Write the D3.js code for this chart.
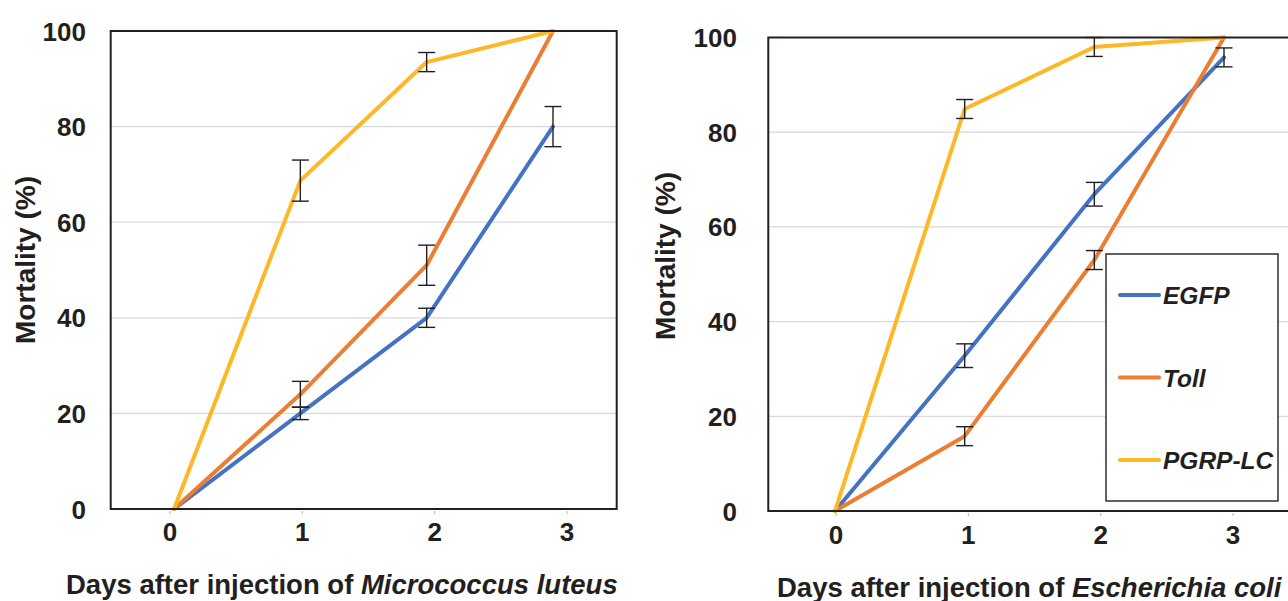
<!DOCTYPE html>
<html>
<head>
<meta charset="utf-8">
<script src="https://cdn.jsdelivr.net/npm/d3@7"></script>
<style>
  html, body { margin: 0; padding: 0; background: #ffffff; }
  svg { display: block; }
  text { font-family: "Liberation Sans", Arial, Helvetica, sans-serif; fill: #231f20; }
</style>
</head>
<body>
<svg id="chart" width="1288" height="601"></svg>
<script>
// ---------- DATA ----------
const days = [0, 1, 2, 3];
const dayLabels = ["0", "1", "2", "3"];
const yTicks = [0, 20, 40, 60, 80, 100];
const seriesNames = ["EGFP", "Toll", "PGRP-LC"];
const seriesColors = ["#4472C4", "#ED7D31", "#FDB827"];

// Panel A: Micrococcus luteus
const mlEGFP = [0, 20, 40, 80];
const mlEGFPErr = [0, 1.3, 2, 4.2];
const mlToll = [0, 24, 51, 100];
const mlTollErr = [0, 2.7, 4.2, 0];
const mlPGRP = [0, 68.7, 93.5, 100];
const mlPGRPErr = [0, 4.3, 2, 0];

// Panel B: Escherichia coli
const ecEGFP = [0, 32.8, 66.9, 95.8];
const ecEGFPErr = [0, 2.5, 2.5, 2];
const ecToll = [0, 15.8, 53, 100];
const ecTollErr = [0, 2, 2, 0];
const ecPGRP = [0, 84.9, 98, 100];
const ecPGRPErr = [0, 2, 2, 0];

const yTitle = "Mortality (%)";
const xTitlePrefix = "Days after injection of ";
const xTitleA = "Micrococcus luteus";
const xTitleB = "Escherichia coli";

// ---------- DRAW ----------
const svg = d3.select("#chart");

function drawPanel(cfg) {
  const g = svg.append("g");
  const y = d3.scaleLinear().domain([0, 100]).range([cfg.bottom, cfg.top]);
  const xData = d3.scaleLinear().domain([0, 3]).range(cfg.dataRange);
  const xAxis = d3.scaleLinear().domain([0, 3]).range(cfg.axisRange);

  // gridlines
  g.selectAll("line.grid").data(yTicks.filter(t => t > 0 && t < 100)).join("line")
    .attr("x1", cfg.left).attr("x2", cfg.right)
    .attr("y1", d => y(d)).attr("y2", d => y(d))
    .attr("stroke", "#d9d9d9").attr("stroke-width", 1.3);

  // y tick labels
  g.selectAll("text.ytick").data(yTicks).join("text")
    .attr("x", cfg.yLabelX).attr("y", d => y(d) + 9.5)
    .attr("text-anchor", "end")
    .attr("font-size", 26).attr("font-weight", "bold")
    .text(d => d);

  // x tick marks + labels
  g.selectAll("line.xtick").data(days).join("line")
    .attr("x1", d => xAxis(d)).attr("x2", d => xAxis(d))
    .attr("y1", cfg.bottom + 2).attr("y2", cfg.bottom + 5)
    .attr("stroke", "#bfbfbf").attr("stroke-width", 1.2);
  g.selectAll("text.xtick").data(days).join("text")
    .attr("x", d => xAxis(d)).attr("y", cfg.xLabelY)
    .attr("text-anchor", "middle")
    .attr("font-size", 26).attr("font-weight", "bold")
    .text((d, i) => dayLabels[i]);

  // series lines
  const line = d3.line().x((d, i) => xData(days[i])).y(d => y(d));
  cfg.series.forEach((s, k) => {
    g.append("path").datum(s.values)
      .attr("d", line)
      .attr("fill", "none")
      .attr("stroke", seriesColors[k])
      .attr("stroke-width", 4)
      .attr("stroke-linejoin", "round")
      .attr("stroke-linecap", "round");
  });

  // error bars
  const cap = 8.5;
  cfg.series.forEach(s => {
    s.values.forEach((v, i) => {
      const e = s.err[i];
      if (!e) return;
      const cx = xData(days[i]);
      const eg = g.append("g").attr("stroke", "#231f20").attr("stroke-width", 1.4);
      eg.append("line").attr("x1", cx).attr("x2", cx).attr("y1", y(v + e)).attr("y2", y(v - e));
      eg.append("line").attr("x1", cx - cap).attr("x2", cx + cap).attr("y1", y(v + e)).attr("y2", y(v + e));
      eg.append("line").attr("x1", cx - cap).attr("x2", cx + cap).attr("y1", y(v - e)).attr("y2", y(v - e));
    });
  });

  // frame
  g.append("rect")
    .attr("x", cfg.left).attr("y", cfg.top)
    .attr("width", cfg.right - cfg.left).attr("height", cfg.bottom - cfg.top)
    .attr("fill", "none").attr("stroke", "#231f20").attr("stroke-width", 2);

  // y title
  g.append("text")
    .attr("transform", `translate(${cfg.yTitleX},${cfg.yTitleY}) rotate(-90)`)
    .attr("text-anchor", "middle")
    .attr("font-size", 28).attr("font-weight", "bold")
    .text(yTitle);

  // x title
  const xt = g.append("text")
    .attr("x", cfg.xTitleX).attr("y", cfg.xTitleY)
    .attr("text-anchor", "start")
    .attr("font-size", 27.5).attr("font-weight", "bold");
  xt.append("tspan").text(xTitlePrefix);
  xt.append("tspan").attr("font-style", "italic").text(cfg.organism);

  return { g, y, xData };
}

drawPanel({
  left: 110.7, right: 616.7, top: 31, bottom: 509,
  dataRange: [174, 553], axisRange: [170, 567],
  yLabelX: 86, xLabelY: 541,
  yTitleX: 35, yTitleY: 260,
  xTitleX: 66, xTitleY: 594,
  organism: xTitleA,
  series: [
    { values: mlEGFP, err: mlEGFPErr },
    { values: mlToll, err: mlTollErr },
    { values: mlPGRP, err: mlPGRPErr }
  ]
});

drawPanel({
  left: 768.3, right: 1300, top: 37.5, bottom: 511,
  dataRange: [835, 1224], axisRange: [836, 1233],
  yLabelX: 737, xLabelY: 544,
  yTitleX: 675, yTitleY: 256,
  xTitleX: 777, xTitleY: 597,
  organism: xTitleB,
  series: [
    { values: ecEGFP, err: ecEGFPErr },
    { values: ecToll, err: ecTollErr },
    { values: ecPGRP, err: ecPGRPErr }
  ]
});

// legend (panel B)
const legend = svg.append("g");
legend.append("rect")
  .attr("x", 1106).attr("y", 254).attr("width", 172).attr("height", 247)
  .attr("fill", "#ffffff").attr("stroke", "#231f20").attr("stroke-width", 1.4);
const legendY = d3.scalePoint().domain(seriesNames).range([295, 460]);
seriesNames.forEach((name, k) => {
  const ly = legendY(name);
  legend.append("line")
    .attr("x1", 1120).attr("x2", 1159).attr("y1", ly).attr("y2", ly)
    .attr("stroke", seriesColors[k]).attr("stroke-width", 4).attr("stroke-linecap", "round");
  legend.append("text")
    .attr("x", 1163).attr("y", ly + 9)
    .attr("font-size", 24.5).attr("font-weight", "bold").attr("font-style", "italic")
    .text(name);
});
</script>
</body>
</html>
